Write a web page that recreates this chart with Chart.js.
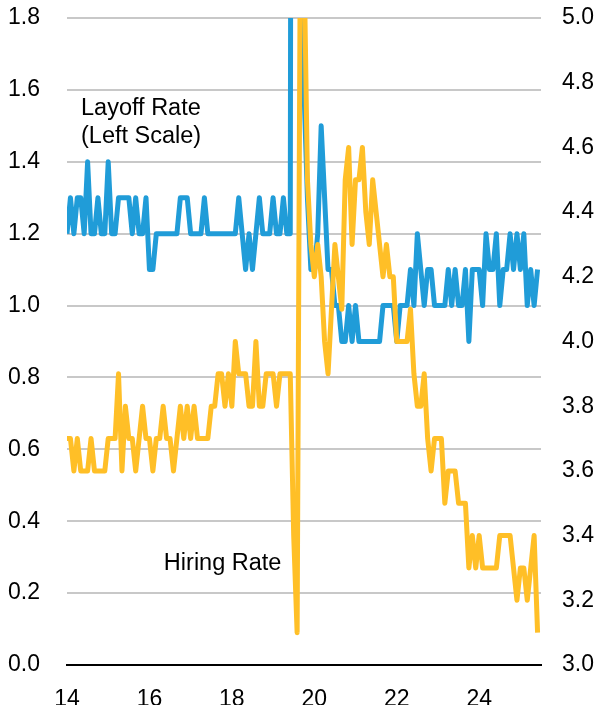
<!DOCTYPE html>
<html>
<head>
    <meta charset="UTF-8">
    <title>Layoff and hiring rates</title>
    <script src="https://cdn.jsdelivr.net/npm/chart.js"></script>
    <style>
        body {
            margin: 0;
            padding: 0;
            background: white;
            font-family: "Liberation Sans", Arial, sans-serif;
        }
        #wrap {
            width: 597px;
            height: 705px;
            position: relative;
        }
    </style>
</head>
<body>
    <div id="wrap">
        <canvas id="rates"></canvas>
    </div>

    <script>
        // monthly series, first point at "14"
        var startYear = 14;

        var layoffRate = [
            1.2, 1.3, 1.2, 1.3, 1.3, 1.2, 1.4, 1.2, 1.2, 1.3,
            1.2, 1.2, 1.4, 1.2, 1.2, 1.3, 1.3, 1.3, 1.3, 1.2,
            1.3, 1.2, 1.2, 1.3, 1.1, 1.1, 1.2, 1.2, 1.2, 1.2,
            1.2, 1.2, 1.2, 1.3, 1.3, 1.3, 1.2, 1.2, 1.2, 1.2,
            1.3, 1.2, 1.2, 1.2, 1.2, 1.2, 1.2, 1.2, 1.2, 1.2,
            1.3, 1.2, 1.1, 1.2, 1.1, 1.2, 1.3, 1.2, 1.2, 1.2,
            1.3, 1.2, 1.2, 1.3, 1.2, 1.2, 7.6, 5.9, 3.0, 1.6,
            1.3, 1.1, 1.1, 1.2, 1.5, 1.3, 1.1, 1.1, 1.0, 1.0,
            0.9, 0.9, 1.0, 0.9, 1.0, 0.9, 0.9, 0.9, 0.9, 0.9,
            0.9, 0.9, 1.0, 1.0, 1.0, 1.0, 0.9, 1.0, 1.0, 1.0,
            1.1, 1.0, 1.2, 1.1, 1.0, 1.1, 1.1, 1.0, 1.0, 1.0,
            1.0, 1.1, 1.0, 1.1, 1.0, 1.0, 1.1, 0.9, 1.1, 1.1,
            1.1, 1.0, 1.2, 1.1, 1.1, 1.2, 1.0, 1.1, 1.1, 1.2,
            1.1, 1.2, 1.1, 1.2, 1.0, 1.1, 1.0, 1.1
        ];

        var hiringRate = [
            3.7, 3.7, 3.6, 3.7, 3.6, 3.6, 3.6, 3.7, 3.6, 3.6,
            3.6, 3.6, 3.7, 3.7, 3.7, 3.9, 3.6, 3.8, 3.7, 3.7,
            3.6, 3.7, 3.8, 3.7, 3.7, 3.6, 3.7, 3.7, 3.8, 3.7,
            3.7, 3.6, 3.7, 3.8, 3.7, 3.8, 3.7, 3.8, 3.7, 3.7,
            3.7, 3.7, 3.8, 3.8, 3.9, 3.9, 3.8, 3.9, 3.8, 4.0,
            3.9, 3.9, 3.9, 3.8, 3.8, 4.0, 3.8, 3.8, 3.9, 3.9,
            3.9, 3.8, 3.9, 3.9, 3.9, 3.9, 3.4, 3.1, 5.4, 5.2,
            4.5, 4.3, 4.2, 4.3, 4.2, 4.0, 3.9, 4.1, 4.3, 4.2,
            4.1, 4.5, 4.6, 4.3, 4.5, 4.5, 4.6, 4.4, 4.3, 4.5,
            4.4, 4.3, 4.2, 4.3, 4.2, 4.2, 4.0, 4.0, 4.0, 4.0,
            4.1, 3.9, 3.8, 3.8, 3.9, 3.7, 3.6, 3.7, 3.7, 3.7,
            3.5, 3.6, 3.6, 3.6, 3.5, 3.5, 3.5, 3.3, 3.4, 3.3,
            3.4, 3.3, 3.3, 3.3, 3.3, 3.3, 3.4, 3.4, 3.4, 3.4,
            3.3, 3.2, 3.3, 3.3, 3.2, 3.3, 3.4, 3.1
        ];

        var yearTicks = [14, 16, 18, 20, 22, 24];
        var leftTicks = [0.0, 0.2, 0.4, 0.6, 0.8, 1.0, 1.2, 1.4, 1.6, 1.8];
        var rightTicks = [3.0, 3.2, 3.4, 3.6, 3.8, 4.0, 4.2, 4.4, 4.6, 4.8, 5.0];

        var blue = '#209cd8';
        var yellow = '#ffbf27';
        var font = '"Liberation Sans", Arial, sans-serif';

        function points(values) {
            return values.map(function(v, i) {
                return { x: startYear + i / 12, y: v };
            });
        }

        function setTicks(list) {
            return function(scale) {
                scale.ticks = list.map(function(v) { return { value: v }; });
            };
        }

        // fixed width for the side axes, and only a small top margin
        function sideAxis(width) {
            return function(scale) {
                scale.width = width;
                scale.paddingTop = 18;
                scale.paddingBottom = 12;
            };
        }

        // text labels placed in data coordinates (x in years, y on the left scale)
        var labels = [
            { text: 'Layoff Rate', x: 14.34, y: 1.53 },
            { text: '(Left Scale)', x: 14.34, y: 1.452 },
            { text: 'Hiring Rate', x: 16.35, y: 0.265 }
        ];

        var labelPlugin = {
            id: 'labels',
            afterDatasetsDraw: function(chart) {
                var ctx = chart.ctx;
                var xs = chart.scales.x;
                var ys = chart.scales.yLeft;
                ctx.save();
                ctx.fillStyle = '#000';
                ctx.font = '23.5px ' + font;
                ctx.textAlign = 'left';
                ctx.textBaseline = 'alphabetic';
                labels.forEach(function(l) {
                    ctx.fillText(l.text, xs.getPixelForValue(l.x), ys.getPixelForValue(l.y));
                });
                ctx.restore();
            }
        };

        var ctx = document.getElementById('rates').getContext('2d');
        var chart = new Chart(ctx, {
            type: 'line',
            data: {
                datasets: [
                    {
                        label: 'Hiring Rate',
                        data: points(hiringRate),
                        yAxisID: 'yRight',
                        borderColor: yellow,
                        borderWidth: 5,
                        borderJoinStyle: 'round',
                        pointRadius: 0,
                        tension: 0,
                        order: 0
                    },
                    {
                        label: 'Layoff Rate',
                        data: points(layoffRate),
                        yAxisID: 'yLeft',
                        borderColor: blue,
                        borderWidth: 5,
                        borderJoinStyle: 'round',
                        pointRadius: 0,
                        tension: 0,
                        order: 1
                    }
                ]
            },
            options: {
                responsive: true,
                maintainAspectRatio: false,
                animation: false,
                layout: { padding: 0 },
                plugins: {
                    legend: { display: false },
                    tooltip: { enabled: false }
                },
                scales: {
                    x: {
                        type: 'linear',
                        min: 14,
                        max: 25.5,
                        afterBuildTicks: setTicks(yearTicks),
                        afterFit: function(scale) { scale.height = 40; },
                        grid: { display: false, drawTicks: false },
                        border: { display: true, color: '#000', width: 2 },
                        ticks: {
                            padding: 21,
                            color: '#000',
                            font: { family: font, size: 23 },
                            maxRotation: 0,
                            callback: function(v) { return v; }
                        }
                    },
                    yLeft: {
                        position: 'left',
                        min: 0,
                        max: 1.8,
                        afterBuildTicks: setTicks(leftTicks),
                        afterFit: sideAxis(67),
                        grid: {
                            drawTicks: false,
                            lineWidth: 2,
                            color: function(c) {
                                return c.tick && c.tick.value === 0 ? 'rgba(0,0,0,0)' : '#c8c8c8';
                            }
                        },
                        border: { display: false },
                        ticks: {
                            padding: 27,
                            color: '#000',
                            font: { family: font, size: 23 },
                            callback: function(v) { return v.toFixed(1); }
                        }
                    },
                    yRight: {
                        position: 'right',
                        min: 3,
                        max: 5,
                        afterBuildTicks: setTicks(rightTicks),
                        afterFit: sideAxis(56),
                        grid: { display: false, drawTicks: false },
                        border: { display: false },
                        ticks: {
                            padding: 21,
                            color: '#000',
                            font: { family: font, size: 23 },
                            callback: function(v) { return v.toFixed(1); }
                        }
                    }
                }
            },
            plugins: [labelPlugin]
        });
    </script>
</body>
</html>
